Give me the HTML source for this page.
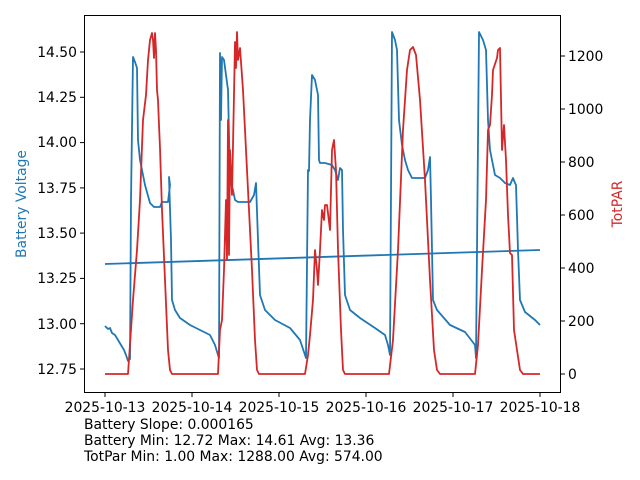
<!DOCTYPE html>
<html><head><meta charset="utf-8"><style>
html,body{margin:0;padding:0;background:#fff;width:640px;height:480px;overflow:hidden}
svg text{font-family:"DejaVu Sans","Liberation Sans",sans-serif;font-size:13.9px;fill:#000}
</style></head><body>
<svg width="640" height="480" viewBox="0 0 640 480" xmlns="http://www.w3.org/2000/svg">
<rect width="640" height="480" fill="#fff"/>
<g fill="none" stroke-linejoin="round" stroke-width="1.8">
<polyline stroke="#1f77b4" points="105,264 540,250"/>
<polyline stroke="#1f77b4" points="105,326 108,329 110,328 112,333 115,335 118,340 121,345 124,350 126,355 128,361 130,359 131,200 133,57 135,62 137,68 138,140 140,160 145,185 150,203 154,207 160,207 162,202 168,202 170,185 169,177 171,240 172,300 175,310 180,318 190,325 200,330 210,335 215,345 218,355 219,358 220,53 221,120 222,57 224,60 226,75 228,90 230,180 233,190 235,200 238,202 250,202 254,195 256,183 258,240 260,295 265,310 275,320 290,328 300,340 305,355 306,358 308,170 309,171 310,120 312,75 315,80 318,95 319,160 320,163 325,163 332,165 335,170 338,180 340,168 342,170 343,230 345,295 350,310 360,318 375,328 385,335 388,345 390,355 392,32 395,40 397,50 399,120 402,145 405,160 408,170 412,178 425,178 428,170 430,157 431,200 433,300 437,310 450,325 465,332 475,345 476,358 479,32 483,40 486,50 488,120 490,150 495,175 500,178 505,183 510,185 513,178 515,183 516,185 518,250 520,300 525,312 535,320 540,325"/>
<polyline stroke="#d62728" points="105,374 128,374 133,300 137,250 140,200 143,120 146,95 148,60 150,40 152,33 153,40 154,58 155,33 156,50 157,90 158,100 159,125 160,148 162,210 165,280 168,350 170,370 172,374 218,374 220,330 222,320 224,270 226,200 227,260 228,120 229,255 230,150 232,195 234,95 235,42 236,68 237,32 238,60 240,48 243,90 247,170 252,270 255,340 257,370 259,374 305,374 308,355 310,335 313,300 315,250 317,270 318,285 320,250 322,210 324,220 325,205 327,205 330,230 332,150 334,140 336,170 338,250 341,330 343,370 345,374 389,374 393,340 398,250 403,130 407,70 410,50 413,47 416,55 420,100 425,180 430,280 434,350 437,370 440,374 475,374 478,345 482,270 486,200 488,130 490,125 492,95 493,70 497,58 498,50 500,48 502,150 504,125 506,160 508,215 510,253 512,255 514,330 517,350 520,370 523,374 540,374"/>
</g>
<rect x="84.5" y="15.5" width="476" height="377" fill="none" stroke="#000" stroke-width="1"/>
<g stroke="#000" stroke-width="1">
<line x1="84" y1="52" x2="80" y2="52"/><line x1="84" y1="97.3" x2="80" y2="97.3"/><line x1="84" y1="142.6" x2="80" y2="142.6"/><line x1="84" y1="187.9" x2="80" y2="187.9"/><line x1="84" y1="233.1" x2="80" y2="233.1"/><line x1="84" y1="278.4" x2="80" y2="278.4"/><line x1="84" y1="323.7" x2="80" y2="323.7"/><line x1="84" y1="369" x2="80" y2="369"/>
<line x1="561" y1="56" x2="565" y2="56"/><line x1="561" y1="109" x2="565" y2="109"/><line x1="561" y1="162" x2="565" y2="162"/><line x1="561" y1="215" x2="565" y2="215"/><line x1="561" y1="268" x2="565" y2="268"/><line x1="561" y1="321" x2="565" y2="321"/><line x1="561" y1="374" x2="565" y2="374"/>
<line x1="105" y1="393" x2="105" y2="397"/><line x1="192" y1="393" x2="192" y2="397"/><line x1="279" y1="393" x2="279" y2="397"/><line x1="366" y1="393" x2="366" y2="397"/><line x1="453" y1="393" x2="453" y2="397"/><line x1="540" y1="393" x2="540" y2="397"/>
</g>
<g text-anchor="end">
<text x="77" y="57">14.50</text><text x="77" y="102">14.25</text><text x="77" y="147">14.00</text><text x="77" y="193">13.75</text><text x="77" y="238">13.50</text><text x="77" y="283">13.25</text><text x="77" y="329">13.00</text><text x="77" y="374">12.75</text>
</g>
<g text-anchor="start">
<text x="568" y="61">1200</text><text x="568" y="114">1000</text><text x="568" y="167">800</text><text x="568" y="220">600</text><text x="568" y="273">400</text><text x="568" y="326">200</text><text x="568" y="379">0</text>
</g>
<g text-anchor="middle">
<text x="105" y="412">2025-10-13</text><text x="192" y="412">2025-10-14</text><text x="279" y="412">2025-10-15</text><text x="366" y="412">2025-10-16</text><text x="453" y="412">2025-10-17</text><text x="540" y="412">2025-10-18</text>
</g>
<text transform="translate(26,204) rotate(-90)" text-anchor="middle" style="fill:#1f77b4">Battery Voltage</text>
<text transform="translate(622,204) rotate(-90)" text-anchor="middle" style="fill:#d62728">TotPAR</text>
<text x="84" y="429">Battery Slope: 0.000165</text>
<text x="84" y="445">Battery Min: 12.72 Max: 14.61 Avg: 13.36</text>
<text x="84" y="461">TotPar Min: 1.00 Max: 1288.00 Avg: 574.00</text>
</svg>
</body></html>
